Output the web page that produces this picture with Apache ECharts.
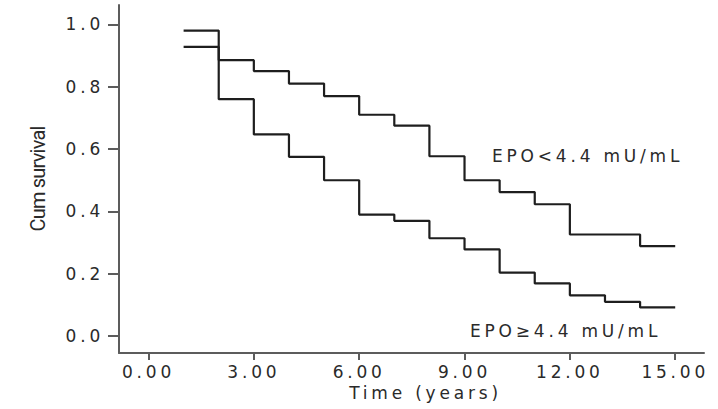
<!DOCTYPE html>
<html>
<head>
<meta charset="utf-8">
<script src="https://cdn.jsdelivr.net/npm/echarts@6/dist/echarts.min.js"></script>
<style>
  html, body { margin: 0; padding: 0; background: #fff; }
  #chart { width: 718px; height: 409px; }
  /* wide tracking for the figure's sans text; the rotated axis name is set tight */
  #chart svg text { letter-spacing: 3.8px; }
  #chart svg text[style*="Roboto"] { letter-spacing: -0.8px; }
</style>
</head>
<body>
<div id="chart"></div>
<script>
// Follow-up time points (years)
var times = [1, 2, 3, 4, 5, 6, 7, 8, 9, 10, 11, 12, 13, 14, 15];
// Cumulative survival, EPO < 4.4 mU/mL
var survLowEpo = [0.98, 0.885, 0.85, 0.81, 0.77, 0.71, 0.675, 0.577, 0.50, 0.462, 0.423, 0.326, 0.326, 0.289, 0.289];
// Cumulative survival, EPO >= 4.4 mU/mL
var survHighEpo = [0.928, 0.76, 0.647, 0.575, 0.50, 0.39, 0.37, 0.314, 0.278, 0.204, 0.169, 0.131, 0.11, 0.092, 0.092];
// Axis tick values
var xTicks = [0, 3, 6, 9, 12, 15];
var yTicks = [0, 0.2, 0.4, 0.6, 0.8, 1.0];
var groupNames = ['EPO<4.4 mU/mL', 'EPO\u22654.4 mU/mL'];

function pairs(xs, ys) {
  return xs.map(function (x, i) { return [x, ys[i]]; });
}

var FONT = 'DejaVu Sans';
var FONT_SIZE = 17;
var AXIS_COLOR = '#5c5c5c';
var TEXT_COLOR = '#2a2a2a';

var chart = echarts.init(document.getElementById('chart'), null, { renderer: 'svg' });

var axisLineStyle = { color: AXIS_COLOR, width: 2 };

chart.setOption({
  animation: false,
  backgroundColor: '#fff',
  grid: { left: 119, right: 14, top: 5, bottom: 56, containLabel: false },
  xAxis: {
    type: 'value',
    min: -0.84,
    max: 15.82,
    splitLine: { show: false },
    axisLine: { show: true, onZero: false, lineStyle: axisLineStyle },
    axisTick: { show: true, customValues: xTicks, length: 7, lineStyle: axisLineStyle },
    axisLabel: {
      customValues: xTicks,
      formatter: function (v) { return v.toFixed(2); },
      margin: 10,
      fontFamily: FONT, fontSize: FONT_SIZE, color: TEXT_COLOR
    },
    name: 'Time (years)',
    nameLocation: 'middle',
    nameGap: 19,
    nameTextStyle: { fontFamily: FONT, fontSize: FONT_SIZE, color: TEXT_COLOR, padding: [0, 0, 0, 28] }
  },
  yAxis: {
    type: 'value',
    min: -0.054,
    max: 1.062,
    splitLine: { show: false },
    axisLine: { show: true, onZero: false, lineStyle: axisLineStyle },
    axisTick: { show: true, customValues: yTicks, length: 11, lineStyle: axisLineStyle },
    axisLabel: {
      customValues: yTicks,
      formatter: function (v) { return v.toFixed(1); },
      margin: 15,
      fontFamily: FONT, fontSize: FONT_SIZE, color: TEXT_COLOR
    },
    name: 'Cum survival',
    nameLocation: 'middle',
    nameRotate: 90,
    nameGap: 71,
    nameTextStyle: { fontFamily: 'Roboto', fontSize: 20, color: TEXT_COLOR }
  },
  series: [
    {
      name: groupNames[0],
      type: 'line',
      step: 'end',
      symbol: 'none',
      data: pairs(times, survLowEpo),
      lineStyle: { color: '#1e1e1e', width: 2.2 }
    },
    {
      name: groupNames[1],
      type: 'line',
      step: 'end',
      symbol: 'none',
      data: pairs(times, survHighEpo),
      lineStyle: { color: '#1e1e1e', width: 2.2 }
    }
  ],
  graphic: [
    {
      type: 'text', left: 492, top: 147,
      style: { text: groupNames[0], fontFamily: FONT, fontSize: FONT_SIZE, fill: TEXT_COLOR }
    },
    {
      type: 'text', left: 470, top: 322,
      style: { text: groupNames[1], fontFamily: FONT, fontSize: FONT_SIZE, fill: TEXT_COLOR }
    }
  ]
});
</script>
</body>
</html>
